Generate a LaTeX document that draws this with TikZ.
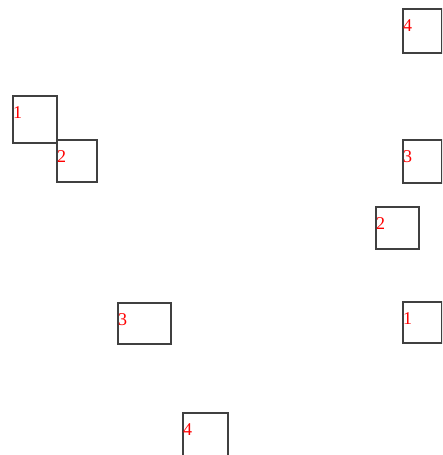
\documentclass[tikz,border=0pt]{standalone}
\usepackage{fontspec}
\setmainfont{Liberation Serif}
\usetikzlibrary{positioning}

\begin{document}
\begin{tikzpicture}[
		x=1pt,y=-1pt,
		cell/.style={draw=black!75,line width=2pt,anchor=north west,inner sep=0pt},
		num/.style={text=red,font=\fontsize{18}{18}\selectfont,anchor=north west,inner sep=0pt}
	]
	\useasboundingbox (0,0) rectangle (442,455);
	\clip (0,0) rectangle (442,455);
	\node[cell,minimum width=44pt,minimum height=47pt] (tl1) at (12,95) {};
	\node[cell,minimum width=40pt,minimum height=42pt] (tl2) at (56,139) {};
	\node[cell,minimum width=39pt,minimum height=44pt] (rt4) at (402,8) {};
	\node[cell,minimum width=39pt,minimum height=43pt] (rt3) at (402,139) {};
	\node[cell,minimum width=43pt,minimum height=42pt] (rt2) at (375,206) {};
	\node[cell,minimum width=39pt,minimum height=41pt] (rt1) at (402,301) {};
	\node[cell,minimum width=53pt,minimum height=41pt] (lf3) at (117,302) {};
	\node[cell,minimum width=45pt,minimum height=50pt] (bt4) at (182,412) {};
	\node[num,xshift=1pt,yshift=-11pt] (n1) at (tl1.north west) {1};
	\node[num,xshift=1pt,yshift=-11pt] (n2) at (tl2.north west) {2};
	\node[num,xshift=1pt,yshift=-11pt] (n4a) at (rt4.north west) {4};
	\node[num,xshift=1pt,yshift=-11pt] (n3a) at (rt3.north west) {3};
	\node[num,xshift=1pt,yshift=-11pt] (n2a) at (rt2.north west) {2};
	\node[num,xshift=1pt,yshift=-11pt] (n1a) at (rt1.north west) {1};
	\node[num,xshift=1pt,yshift=-11pt] (n3) at (lf3.north west) {3};
	\node[num,xshift=1pt,yshift=-11pt] (n4) at (bt4.north west) {4};
\end{tikzpicture}
\end{document}
